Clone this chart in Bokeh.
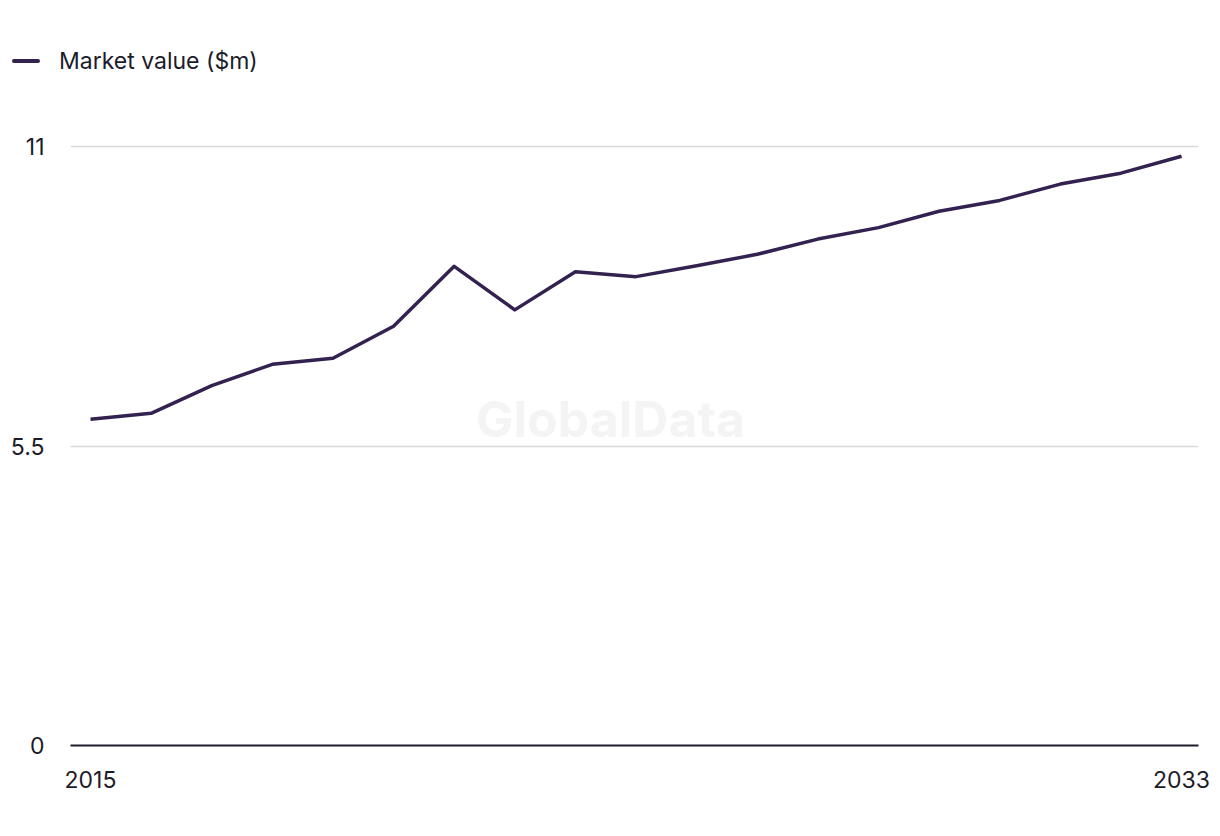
from bokeh.plotting import figure
from bokeh.layouts import column
from bokeh.models import Range1d, FixedTicker, Label, ColumnDataSource, Div
from bokeh.embed import file_html
from bokeh.resources import INLINE

years = list(range(2015, 2034))
market_value = [5.99, 6.10, 6.61, 7.00, 7.11, 7.70, 8.80, 8.00, 8.70, 8.61,
                8.81, 9.02, 9.30, 9.51, 9.81, 10.01, 10.31, 10.51, 10.82]
series_name = "Market value ($m)"
y_ticks = [0, 5.5, 11]
y_tick_labels = ["0", "5.5", "11"]
x_ticks = [2015, 2033]

FONT = "Inter"
FS = "23px"
TEXT = "#1c1c2b"
LINE = "#33214f"

W = 1220
LEG_H = 100
H = 836 - LEG_H
LEFT, RIGHT, TOP, BOTTOM = 70, 22, 0, 91
frame_h = H - TOP - BOTTOM
px_per_unit = (745 - 146) / 11.0

# ---- legend strip (HTML) ----
legend_html = (
    '<div style="display:flex;align-items:center;height:24px;'
    'margin:49px 0 0 12px;">'
    f'<span style="display:inline-block;width:28px;height:4px;background:{LINE};'
    'border-radius:2px;"></span>'
    f'<span style="margin-left:19px;font-family:{FONT};font-size:{FS};color:{TEXT};'
    f'line-height:24px;white-space:nowrap;">{series_name}</span></div>'
)
legend_div = Div(text=legend_html, width=W, height=LEG_H, margin=(0, 0, 0, 0))

# ---- main chart ----
p = figure(width=W, height=H, output_backend="svg", toolbar_location=None,
           x_range=Range1d(2014.67, 2033.28),
           y_range=Range1d(0, frame_h / px_per_unit),
           min_border_left=LEFT, min_border_right=RIGHT,
           min_border_top=TOP, min_border_bottom=BOTTOM, margin=(0, 0, 0, 0))
p.outline_line_color = None
p.background_fill_color = "white"
p.border_fill_color = "white"

src = ColumnDataSource(dict(x=years, y=market_value))
r = p.line("x", "y", source=src, line_color=LINE, line_width=3.5, line_join="round")

p.xaxis.ticker = FixedTicker(ticks=x_ticks)
p.xaxis.axis_line_color = TEXT
p.xaxis.axis_line_width = 2
p.xaxis.major_tick_line_color = None
p.xaxis.minor_tick_line_color = None
p.xaxis.major_label_standoff = 19
p.xaxis.major_label_text_font = FONT
p.xaxis.major_label_text_font_size = FS
p.xaxis.major_label_text_color = TEXT

p.yaxis.ticker = FixedTicker(ticks=y_ticks)
p.yaxis.major_label_overrides = {t: l for t, l in zip(y_ticks, y_tick_labels)}
p.yaxis.axis_line_color = None
p.yaxis.major_tick_line_color = None
p.yaxis.minor_tick_line_color = None
p.yaxis.major_label_standoff = 20
p.yaxis.major_label_text_font = FONT
p.yaxis.major_label_text_font_size = FS
p.yaxis.major_label_text_color = TEXT

p.xgrid.grid_line_color = None
p.ygrid.ticker = FixedTicker(ticks=y_ticks[1:])
p.ygrid.grid_line_color = "#d9d9d9"
p.ygrid.grid_line_width = 1.5

wm = Label(x=540, y=327, x_units="screen", y_units="screen", text="GlobalData",
           text_font=FONT, text_font_style="bold", text_font_size="50px",
           text_color="#f4f4f4", text_align="center", text_baseline="middle")
p.add_layout(wm)

layout = column(legend_div, p, spacing=0)
open("out.html", "w").write(file_html(layout, INLINE))
